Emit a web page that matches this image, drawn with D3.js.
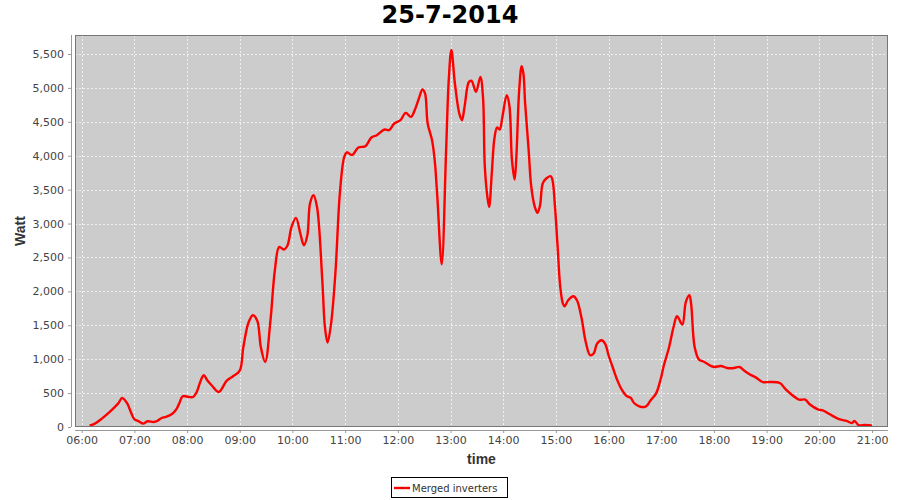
<!DOCTYPE html>
<html>
<head>
<meta charset="utf-8">
<script src="https://cdn.jsdelivr.net/npm/d3@7"></script>
<style>
  html, body { margin: 0; padding: 0; background: #ffffff; }
  svg { display: block; }
</style>
</head>
<body>
<svg id="chart" width="900" height="500"></svg>
<script>
// ---- data ----
const chartTitle = "25-7-2014";
const seriesName = "Merged inverters";
const xAxisLabel = "time";
const yAxisLabel = "Watt";
const times = ["06:09","06:15","06:23","06:31","06:37","06:42","06:46","06:52","06:56","07:00",
  "07:05","07:10","07:15","07:22","07:26","07:31","07:36","07:42","07:47","07:51",
  "07:55","08:02","08:07","08:11","08:15","08:19","08:23","08:28","08:36","08:45",
  "08:52","09:00","09:04","09:10","09:15","09:20","09:24","09:29","09:35","09:40",
  "09:45","09:50","09:54","09:59","10:04","10:09","10:13","10:17","10:20","10:24",
  "10:28","10:34","10:37","10:40","10:44","10:49","10:54","10:59","11:02","11:08",
  "11:15","11:23","11:30","11:36","11:45","11:50","11:56","12:03","12:09","12:15",
  "12:20","12:24","12:28","12:31","12:34","12:39","12:42","12:45","12:50","12:55",
  "12:58","13:01","13:05","13:10","13:13","13:16","13:21","13:24","13:29","13:34",
  "13:37","13:39","13:42","13:44","13:47","13:50","13:53","13:56","13:59","14:04",
  "14:07","14:10","14:13","14:15","14:18","14:21","14:23","14:25","14:29","14:32",
  "14:36","14:39","14:42","14:45","14:49","14:54","14:56","14:59","15:02","15:05",
  "15:08","15:10","15:14","15:20","15:24","15:29","15:34","15:39","15:43","15:47",
  "15:52","15:56","16:00","16:05","16:10","16:15","16:21","16:25","16:29","16:35",
  "16:41","16:44","16:48","16:54","16:59","17:03","17:09","17:14","17:18","17:24",
  "17:28","17:32","17:34","17:38","17:43","17:49","17:55","18:00","18:08","18:15",
  "18:23","18:29","18:35","18:41","18:48","18:55","19:04","19:15","19:21","19:28",
  "19:37","19:44","19:49","19:59","20:04","20:12","20:21","20:31","20:37","20:40",
  "20:45","20:52","20:57","21:00"];
const watts = [20,50,124,212,286,354,428,345,221,114,
  84,50,84,74,89,133,148,183,246,345,
  453,443,443,516,664,763,689,615,516,679,
  745,830,1170,1540,1648,1565,1180,959,1574,2311,
  2655,2617,2665,2950,3083,2853,2680,2828,3295,3418,
  3245,2164,1475,1245,1525,2286,3443,3983,4050,4010,
  4121,4140,4269,4303,4387,4376,4475,4524,4632,4573,
  4697,4844,4977,4918,4475,4229,3934,3393,2400,4081,
  5114,5560,5065,4622,4524,4720,5089,5104,4941,5160,
  4868,3860,3393,3245,3738,4254,4416,4387,4564,4893,
  4745,3934,3649,3983,4918,5320,5213,4770,4081,3540,
  3245,3157,3270,3590,3664,3698,3649,3245,2655,2065,
  1820,1780,1869,1928,1869,1623,1254,1058,1083,1230,
  1279,1230,1058,870,689,551,453,433,354,305,
  295,320,394,492,689,910,1180,1475,1633,1510,
  1844,1943,1820,1180,994,959,910,885,900,870,
  870,885,826,775,728,664,664,649,566,482,
  404,404,335,257,246,187,124,89,59,89,
  25,30,25,20];
const yTicks = [0,500,1000,1500,2000,2500,3000,3500,4000,4500,5000,5500];
const xTickHours = [6,7,8,9,10,11,12,13,14,15,16,17,18,19,20,21];
const xDomainText = ["05:52:24","21:18:12"];
const yMax = 5780;

// ---- layout ----
const W = 900, H = 500;
const plot = { left: 75, top: 35, right: 888, bottom: 427 };

const parseT = d3.timeParse("%Y-%m-%d %H:%M");
const parseTs = d3.timeParse("%Y-%m-%d %H:%M:%S");
const day = "2014-07-25";
const data = times.map((t, i) => ({ t: parseT(day + " " + t), v: watts[i] }));

const x = d3.scaleTime()
  .domain(xDomainText.map(s => parseTs(day + " " + s)))
  .range([plot.left, plot.right]);
const y = d3.scaleLinear().domain([0, yMax]).range([plot.bottom, plot.top]);

const svg = d3.select("#chart");
const FONT = "'DejaVu Sans', sans-serif";

// Title
svg.append("text")
  .attr("x", W / 2).attr("y", 23)
  .attr("text-anchor", "middle")
  .attr("font-family", FONT)
  .attr("font-weight", "bold")
  .attr("font-size", 24)
  .attr("fill", "#000")
  .text(chartTitle);

// Plot background
svg.append("rect")
  .attr("x", plot.left).attr("y", plot.top)
  .attr("width", plot.right - plot.left)
  .attr("height", plot.bottom - plot.top)
  .attr("fill", "#cccccc");

// Gridlines
const xTickDates = xTickHours.map(h => parseT(day + " " + String(h).padStart(2, "0") + ":00"));
const grid = svg.append("g").attr("stroke", "#ffffff").attr("stroke-width", 0.7)
  .attr("stroke-dasharray", "2,2");
grid.selectAll("line.v").data(xTickDates).join("line")
  .attr("x1", d => Math.round(x(d)) + 0.5).attr("x2", d => Math.round(x(d)) + 0.5)
  .attr("y1", plot.top).attr("y2", plot.bottom);
grid.selectAll("line.h").data(yTicks).join("line")
  .attr("x1", plot.left).attr("x2", plot.right)
  .attr("y1", d => Math.round(y(d)) + 0.5).attr("y2", d => Math.round(y(d)) + 0.5);

// Line
const line = d3.line()
  .x(d => x(d.t)).y(d => y(d.v))
  .curve(d3.curveCatmullRom.alpha(0.5));
svg.append("path")
  .datum(data)
  .attr("fill", "none")
  .attr("stroke", "#ff0000")
  .attr("stroke-width", 2.4)
  .attr("stroke-linejoin", "round")
  .attr("d", line);

// Plot outline
svg.append("rect")
  .attr("x", plot.left + 0.5).attr("y", plot.top + 0.5)
  .attr("width", plot.right - plot.left - 1)
  .attr("height", plot.bottom - plot.top - 1)
  .attr("fill", "none")
  .attr("stroke", "#777777");

// X axis
const xAxis = d3.axisBottom(x)
  .tickValues(xTickDates)
  .tickFormat(d3.timeFormat("%H:%M"))
  .tickSizeInner(3).tickSizeOuter(0).tickPadding(3);
const gx = svg.append("g").attr("transform", `translate(0,${plot.bottom + 3})`).call(xAxis);
gx.select(".domain").attr("stroke", "#999999").attr("d", `M${plot.left},0.5H${plot.right}`);
gx.selectAll(".tick line").attr("stroke", "#999999");
gx.selectAll(".tick text").attr("font-family", FONT).attr("font-size", 11).attr("fill", "#444444");

// Y axis
const yAxis = d3.axisLeft(y)
  .tickValues(yTicks)
  .tickFormat(d3.format(","))
  .tickSizeInner(3).tickSizeOuter(0).tickPadding(4);
const gy = svg.append("g").attr("transform", `translate(${plot.left - 4},0)`).call(yAxis);
gy.select(".domain").attr("stroke", "#999999").attr("d", `M0.5,${plot.top}V${plot.bottom}`);
gy.selectAll(".tick line").attr("stroke", "#999999");
gy.selectAll(".tick text").attr("font-family", FONT).attr("font-size", 11).attr("fill", "#444444");

// Axis labels
svg.append("text")
  .attr("x", (plot.left + plot.right) / 2).attr("y", 464)
  .attr("text-anchor", "middle")
  .attr("font-family", "'Liberation Sans', sans-serif")
  .attr("font-weight", "bold").attr("font-size", 14)
  .attr("fill", "#333333")
  .text(xAxisLabel);
svg.append("text")
  .attr("transform", `translate(25,${(plot.top + plot.bottom) / 2}) rotate(-90)`)
  .attr("text-anchor", "middle")
  .attr("font-family", "'Liberation Sans', sans-serif")
  .attr("font-weight", "bold").attr("font-size", 14)
  .attr("fill", "#333333")
  .text(yAxisLabel);

// Legend
const lg = svg.append("g");
lg.append("rect")
  .attr("x", 391.5).attr("y", 477.5).attr("width", 116).attr("height", 20)
  .attr("fill", "#ffffff").attr("stroke", "#000000");
lg.append("line")
  .attr("x1", 394).attr("x2", 410).attr("y1", 488).attr("y2", 488)
  .attr("stroke", "#ff0000").attr("stroke-width", 2.4);
lg.append("rect")
  .attr("x", 401).attr("y", 487).attr("width", 2).attr("height", 2)
  .attr("fill", "#cc0000");
lg.append("text")
  .attr("x", 412).attr("y", 492)
  .attr("font-family", FONT).attr("font-size", 10)
  .attr("fill", "#333333")
  .text(seriesName);
</script>
</body>
</html>
